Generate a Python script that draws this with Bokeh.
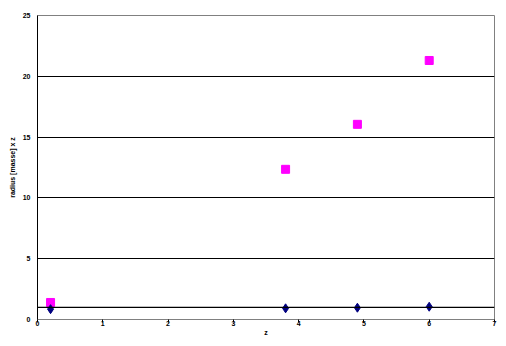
from bokeh.plotting import figure
from bokeh.models import Span, FixedTicker
from bokeh.embed import file_html
from bokeh.resources import INLINE

# data
z_vals = [0.2, 3.8, 4.9, 6.0]
radius_vals = [0.85, 0.92, 0.97, 1.05]
radius_mass_vals = [1.4, 12.35, 16.05, 21.3]
x_ticks = [0, 1, 2, 3, 4, 5, 6, 7]
y_ticks = [0, 5, 10, 15, 20, 25]

FONT = "Liberation Sans"

p = figure(width=506, height=346, x_range=(0, 7), y_range=(0, 25),
           output_backend="svg", toolbar_location=None,
           min_border_left=37, min_border_right=12, min_border_top=15, min_border_bottom=27)
p.background_fill_color = "white"
p.border_fill_color = "white"
p.outline_line_color = "#808080"
p.outline_line_width = 1

p.xgrid.visible = False
p.ygrid.ticker = FixedTicker(ticks=[5, 10, 15, 20])
p.ygrid.grid_line_color = "black"
p.ygrid.grid_line_width = 1

p.add_layout(Span(location=1, dimension="width", line_color="black", line_width=1.2))

p.scatter(z_vals, radius_mass_vals, marker="square", size=8, fill_color="#FF00FF", line_color="#FF00FF")
p.scatter(z_vals, radius_vals, marker="diamond", size=9, fill_color="#000080", line_color="#000080")

p.xaxis.ticker = FixedTicker(ticks=x_ticks)
p.yaxis.ticker = FixedTicker(ticks=y_ticks)

p.xaxis.axis_line_color = "#808080"
p.xaxis.major_tick_line_color = "black"
p.xaxis.major_tick_out = 3
p.xaxis.major_tick_in = 0
p.xaxis.minor_tick_line_color = None
p.xaxis.major_label_standoff = -2
p.xaxis.axis_label = "z"
p.xaxis.axis_label_standoff = 0

p.yaxis.axis_line_color = "black"
p.yaxis.major_tick_out = 0
p.yaxis.major_tick_in = 0
p.yaxis.minor_tick_line_color = None
p.yaxis.major_label_standoff = 7
p.yaxis.axis_label = "radius [masse] x z"
p.yaxis.axis_label_standoff = 4

for ax in (p.xaxis[0], p.yaxis[0]):
    ax.major_label_text_font = FONT
    ax.major_label_text_font_size = "7px"
    ax.major_label_text_font_style = "bold"
    ax.major_label_text_color = "black"
    ax.axis_label_text_font = FONT
    ax.axis_label_text_font_size = "7px"
    ax.axis_label_text_font_style = "bold"
    ax.axis_label_text_color = "black"

open("out.html", "w").write(file_html(p, INLINE))
